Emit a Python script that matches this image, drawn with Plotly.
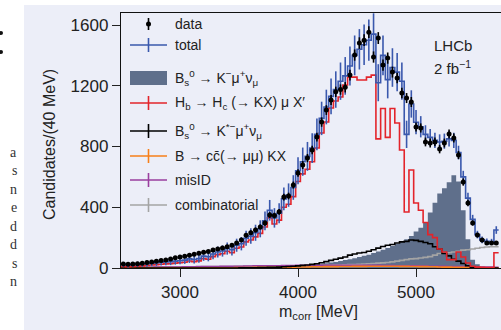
import numpy as np
import plotly.graph_objects as go

# ---------------- data (40 MeV bins from 2500 MeV) ----------------
bin_lo = 2500
bin_w = 40
data = [26, 25, 26, 28, 31, 36, 40, 45, 50, 52,
        60, 68, 72, 78, 84, 90, 97, 104, 108, 118,
        125, 131, 140, 150, 165, 185, 215, 232, 250, 270,
        296, 349, 345, 370, 467, 474, 546, 625, 678, 724,
        777, 862, 961, 1040, 1106, 1160, 1175, 1190, 1270, 1402,
        1481, 1500, 1553, 1389, 1514, 1336, 1382, 1290, 1251, 1152,
        1119, 1093, 928, 922, 830, 823, 830, 783, 823, 882,
        856, 744, 566, 428, 296, 217, 184, 165, 165, 165]
data_err = [5, 5, 5, 5, 6, 6, 6, 7, 7, 7,
            8, 8, 8, 9, 9, 9, 10, 10, 10, 11,
            11, 11, 12, 12, 13, 14, 15, 15, 16, 16,
            17, 19, 19, 19, 22, 22, 23, 25, 26, 27,
            28, 29, 31, 32, 33, 34, 34, 34, 36, 37,
            38, 39, 39, 37, 39, 37, 37, 36, 35, 34,
            33, 33, 30, 30, 29, 29, 29, 28, 29, 30,
            29, 27, 24, 21, 17, 15, 14, 13, 13, 13]
total = [22, 20, 22, 24, 26, 28, 32, 35, 38, 40,
         42, 45, 48, 52, 60, 56, 62, 78, 74, 92,
         105, 112, 128, 120, 150, 160, 196, 210, 232, 258,
         310, 380, 330, 360, 455, 480, 530, 640, 700, 735,
         790, 880, 985, 1060, 1130, 1175, 1230, 1265, 1330, 1400,
         1440, 1470, 1500, 1540, 1220, 1400, 1240, 1320, 1290, 1230,
         880, 1080, 960, 930, 880, 860, 840, 830, 835, 850,
         840, 760, 600, 460, 320, 220, 185, 175, 172, 250]
total_err = [16, 16, 16, 17, 18, 19, 20, 21, 22, 22,
             23, 23, 24, 25, 27, 26, 28, 31, 30, 34,
             36, 37, 40, 38, 43, 44, 49, 51, 53, 56,
             62, 68, 64, 66, 75, 77, 81, 89, 93, 95,
             98, 104, 110, 114, 118, 120, 123, 124, 128, 131,
             133, 134, 136, 137, 122, 131, 123, 127, 126, 123,
             90, 90, 80, 70, 60, 55, 50, 50, 50, 50,
             50, 45, 40, 35, 30, 25, 22, 20, 20, 25]
bs_kmunu = [0] * 25 + [1, 2, 3, 4, 5,
            6, 7, 8, 9, 10, 12, 13, 15, 17, 18,
            20, 24, 28, 32, 36, 40, 46, 52, 58, 65,
            72, 80, 88, 98, 108, 120, 132, 145, 160, 175,
            190, 210, 240, 265, 300, 365, 430, 490, 525, 565,
            610, 570, 380, 190, 55, 25, 8, 0, 0, 0]
hb_hc = [10, 8, 10, 12, 14, 16, 20, 22, 25, 27,
         29, 32, 35, 38, 46, 42, 47, 62, 58, 75,
         88, 94, 110, 100, 130, 138, 172, 184, 205, 228,
         270, 330, 290, 315, 400, 420, 470, 570, 620, 650,
         700, 790, 889, 961, 1053, 1100, 1126, 1205, 1257, 1257,
         1238, 1238, 1257, 1270, 850, 1050, 860, 1050, 955, 777,
         369, 645, 428, 380, 300, 220, 200, 125, 105, 55,
         55, 105, 72, 33, 12, 6, 4, 3, 3, 100]
bs_kstar = [0] * 25 + [1, 1, 2, 2, 3,
            3, 4, 5, 6, 8, 10, 12, 14, 17, 20,
            24, 28, 35, 42, 50, 58, 65, 72, 85, 92,
            99, 102, 110, 120, 131, 142, 150, 155, 165, 172,
            175, 184, 182, 175, 168, 160, 140, 125, 95, 80,
            58, 45, 30, 15, 6, 2, 0, 0, 0, 0]
b_ccbar = [1] * 20 + [2, 2, 2, 2, 3, 3, 3, 3, 4, 4,
           4, 5, 5, 5, 6, 6, 6, 7, 7, 7,
           8, 8, 8, 9, 9, 9, 10, 10, 10, 11,
           11, 11, 12, 12, 12, 12, 12, 12, 12, 11,
           11, 10, 10, 9, 9, 8, 8, 7, 6, 6,
           5, 5, 4, 4, 3, 3, 2, 2, 2, 2]
mis_id = [4, 4, 4, 5, 5, 5, 5, 6, 6, 6,
          7, 7, 7, 8, 8, 8, 9, 9, 10, 10,
          10, 11, 11, 12, 12, 12, 13, 13, 14, 14,
          14, 15, 15, 15, 16, 16, 16, 17, 17, 17,
          17, 18, 18, 18, 18, 18, 18, 18, 18, 18,
          18, 18, 17, 17, 17, 16, 16, 16, 15, 15,
          15, 14, 14, 13, 13, 12, 12, 11, 11, 10,
          10, 9, 9, 8, 8, 7, 7, 6, 6, 5]
combinatorial = [4, 4, 5, 5, 5, 5, 6, 6, 6, 6,
                 7, 7, 7, 8, 8, 8, 8, 9, 9, 9,
                 10, 10, 10, 10, 11, 11, 11, 12, 12, 12,
                 13, 13, 13, 14, 14, 14, 15, 15, 15, 16,
                 16, 17, 17, 18, 18, 19, 20, 21, 22, 23,
                 24, 26, 28, 30, 32, 34, 36, 40, 45, 50,
                 55, 60, 62, 66, 70, 75, 85, 95, 100, 100,
                 105, 110, 118, 120, 125, 130, 135, 138, 140, 140]
x_ticks = [3000, 4000, 5000]
y_ticks = [0, 400, 800, 1200, 1600]

n = len(data)
edges = bin_lo + bin_w * np.arange(n + 1)
centers = edges[:-1] + bin_w / 2


def step(vals):
    return list(edges), list(vals) + [vals[-1]]


# ---------------- geometry helpers (pixel -> paper) ----------------
W, H = 501, 330
L, R, T, B = 121, 501, 13, 268


def px(x):
    return (x - L) / (R - L)


def py(y):
    return (B - y) / (B - T)


BG = "#eceef8"
C_BLUE = "#3a58ad"
C_RED = "#e3242b"
C_SLATE = "#5f6f8b"
C_ORANGE = "#f77f1a"
C_PURPLE = "#9a3e9f"
C_GREY = "#a4a4a4"
FONT = "Liberation Sans, Arial, sans-serif"

fig = go.Figure()

# filled component
xs, ys = step(bs_kmunu)
fig.add_trace(go.Scatter(x=xs, y=ys, mode="lines", line=dict(shape="hv", width=0, color=C_SLATE),
                         fill="tozeroy", fillcolor=C_SLATE, hoverinfo="skip", showlegend=False))
for vals, col in [(combinatorial, C_GREY), (mis_id, C_PURPLE), (b_ccbar, C_ORANGE),
                  (bs_kstar, "#000000"), (hb_hc, C_RED)]:
    xs, ys = step(vals)
    fig.add_trace(go.Scatter(x=xs, y=ys, mode="lines", line=dict(shape="hv", width=1.6, color=col),
                             hoverinfo="skip", showlegend=False))

# total
xs, ys = step(total)
fig.add_trace(go.Scatter(x=xs, y=ys, mode="lines", line=dict(shape="hv", width=1.6, color=C_BLUE),
                         hoverinfo="skip", showlegend=False))
fig.add_trace(go.Scatter(x=centers, y=total, mode="markers", marker=dict(size=0.1, color=C_BLUE),
                         error_y=dict(type="data", array=total_err, color=C_BLUE, thickness=1.6, width=0),
                         hoverinfo="skip", showlegend=False))
# data
fig.add_trace(go.Scatter(x=centers, y=data, mode="markers", marker=dict(size=5, color="#000000"),
                         error_y=dict(type="data", array=data_err, color="#000000", thickness=1.6, width=0),
                         error_x=dict(type="constant", value=bin_w / 2 * 0.7, color="#000000", thickness=1.6, width=0),
                         hoverinfo="skip", showlegend=False))

shapes = []
annotations = []

# page background box
shapes.append(dict(type="rect", xref="paper", yref="paper", x0=px(24), x1=px(520), y0=py(5), y1=py(340),
                   fillcolor=BG, line=dict(width=0), layer="below"))
# colon fragment at page edge
for cy in (33, 52):
    shapes.append(dict(type="circle", xref="paper", yref="paper", x0=px(-1), x1=px(3), y0=py(cy - 2), y1=py(cy + 2),
                       fillcolor="#111111", line=dict(width=0)))

# page text fragments
frag = ["a", "s", "n", "e", "d", "d", "s", "n"]
frag_y = [152, 170, 189, 207, 226, 244, 263, 281]
for ch, yy in zip(frag, frag_y):
    annotations.append(dict(x=px(19), y=py(yy), xref="paper", yref="paper", text=ch, showarrow=False,
                            xanchor="right", yanchor="middle",
                            font=dict(family="Liberation Serif, DejaVu Serif, serif", size=14, color="#333")))

# legend (manual)
leg_labels = ["data", "total",
              "B<sub>s</sub><sup>0</sup> → K<sup>−</sup>μ<sup>+</sup>ν<sub>μ</sub>",
              "H<sub>b</sub> → H<sub>c</sub> (→ KX) μ X′",
              "B<sub>s</sub><sup>0</sup> → K<sup>*−</sup>μ<sup>+</sup>ν<sub>μ</sub>",
              "B → cc\u0304(→ μμ) KX",
              "misID", "combinatorial"]
leg_y = [24, 45, 78, 103, 131, 156, 180, 205]
leg_col = ["#000000", C_BLUE, C_SLATE, C_RED, "#000000", C_ORANGE, C_PURPLE, C_GREY]
for i, (lab, yy, col) in enumerate(zip(leg_labels, leg_y, leg_col)):
    annotations.append(dict(x=px(173), y=py(yy), xref="paper", yref="paper", text=lab, showarrow=False,
                            xanchor="left", yanchor="middle", font=dict(family=FONT, size=14, color="#222")))
    if i == 0:
        shapes.append(dict(type="line", xref="paper", yref="paper", x0=px(148.5), x1=px(148.5),
                           y0=py(yy - 6), y1=py(yy + 6), line=dict(color=col, width=1.6)))
        shapes.append(dict(type="circle", xref="paper", yref="paper", x0=px(146), x1=px(151),
                           y0=py(yy - 2.5), y1=py(yy + 2.5), fillcolor=col, line=dict(width=0)))
    elif i == 2:
        shapes.append(dict(type="rect", xref="paper", yref="paper", x0=px(130), x1=px(167),
                           y0=py(yy - 7), y1=py(yy + 7), fillcolor=col, line=dict(width=0)))
    else:
        shapes.append(dict(type="line", xref="paper", yref="paper", x0=px(130), x1=px(167),
                           y0=py(yy), y1=py(yy), line=dict(color=col, width=1.6)))
        shapes.append(dict(type="line", xref="paper", yref="paper", x0=px(148.5), x1=px(148.5),
                           y0=py(yy - 7), y1=py(yy + 7), line=dict(color=col, width=1.6)))

# LHCb label
annotations.append(dict(x=px(432), y=py(45), xref="paper", yref="paper", text="LHCb", showarrow=False,
                        xanchor="left", yanchor="middle", font=dict(family=FONT, size=15, color="#222")))
annotations.append(dict(x=px(432), y=py(67), xref="paper", yref="paper", text="2 fb<sup>−1</sup>",
                        showarrow=False, xanchor="left", yanchor="middle",
                        font=dict(family=FONT, size=15, color="#222")))
# axis titles
annotations.append(dict(x=px(318), y=py(312), xref="paper", yref="paper", text="m<sub>corr</sub> [MeV]",
                        showarrow=False, xanchor="center", yanchor="middle",
                        font=dict(family=FONT, size=16, color="#222")))
annotations.append(dict(x=px(50), y=py(145), xref="paper", yref="paper", text="Candidates/(40 MeV)",
                        showarrow=False, xanchor="center", yanchor="middle", textangle=-90,
                        font=dict(family=FONT, size=16, color="#222")))

fig.update_layout(
    width=W, height=H,
    margin=dict(l=L, r=W - R, t=T, b=H - B, pad=0),
    paper_bgcolor="white", plot_bgcolor=BG,
    shapes=shapes, annotations=annotations,
    showlegend=False,
    xaxis=dict(range=[2500, 5720], tickvals=x_ticks, ticks="outside", ticklen=8, tickwidth=1.3,
               tickcolor="#222", showgrid=False, zeroline=False, showline=True, linecolor="#111",
               linewidth=1.4, mirror=True, tickfont=dict(family=FONT, size=17, color="#222")),
    yaxis=dict(range=[0, 1679], tickvals=y_ticks, ticks="outside", ticklen=8, tickwidth=1.3,
               tickcolor="#222", showgrid=False, zeroline=False, showline=True, linecolor="#111",
               linewidth=1.4, tickfont=dict(family=FONT, size=17, color="#222")),
)

fig.write_html("out.html")
